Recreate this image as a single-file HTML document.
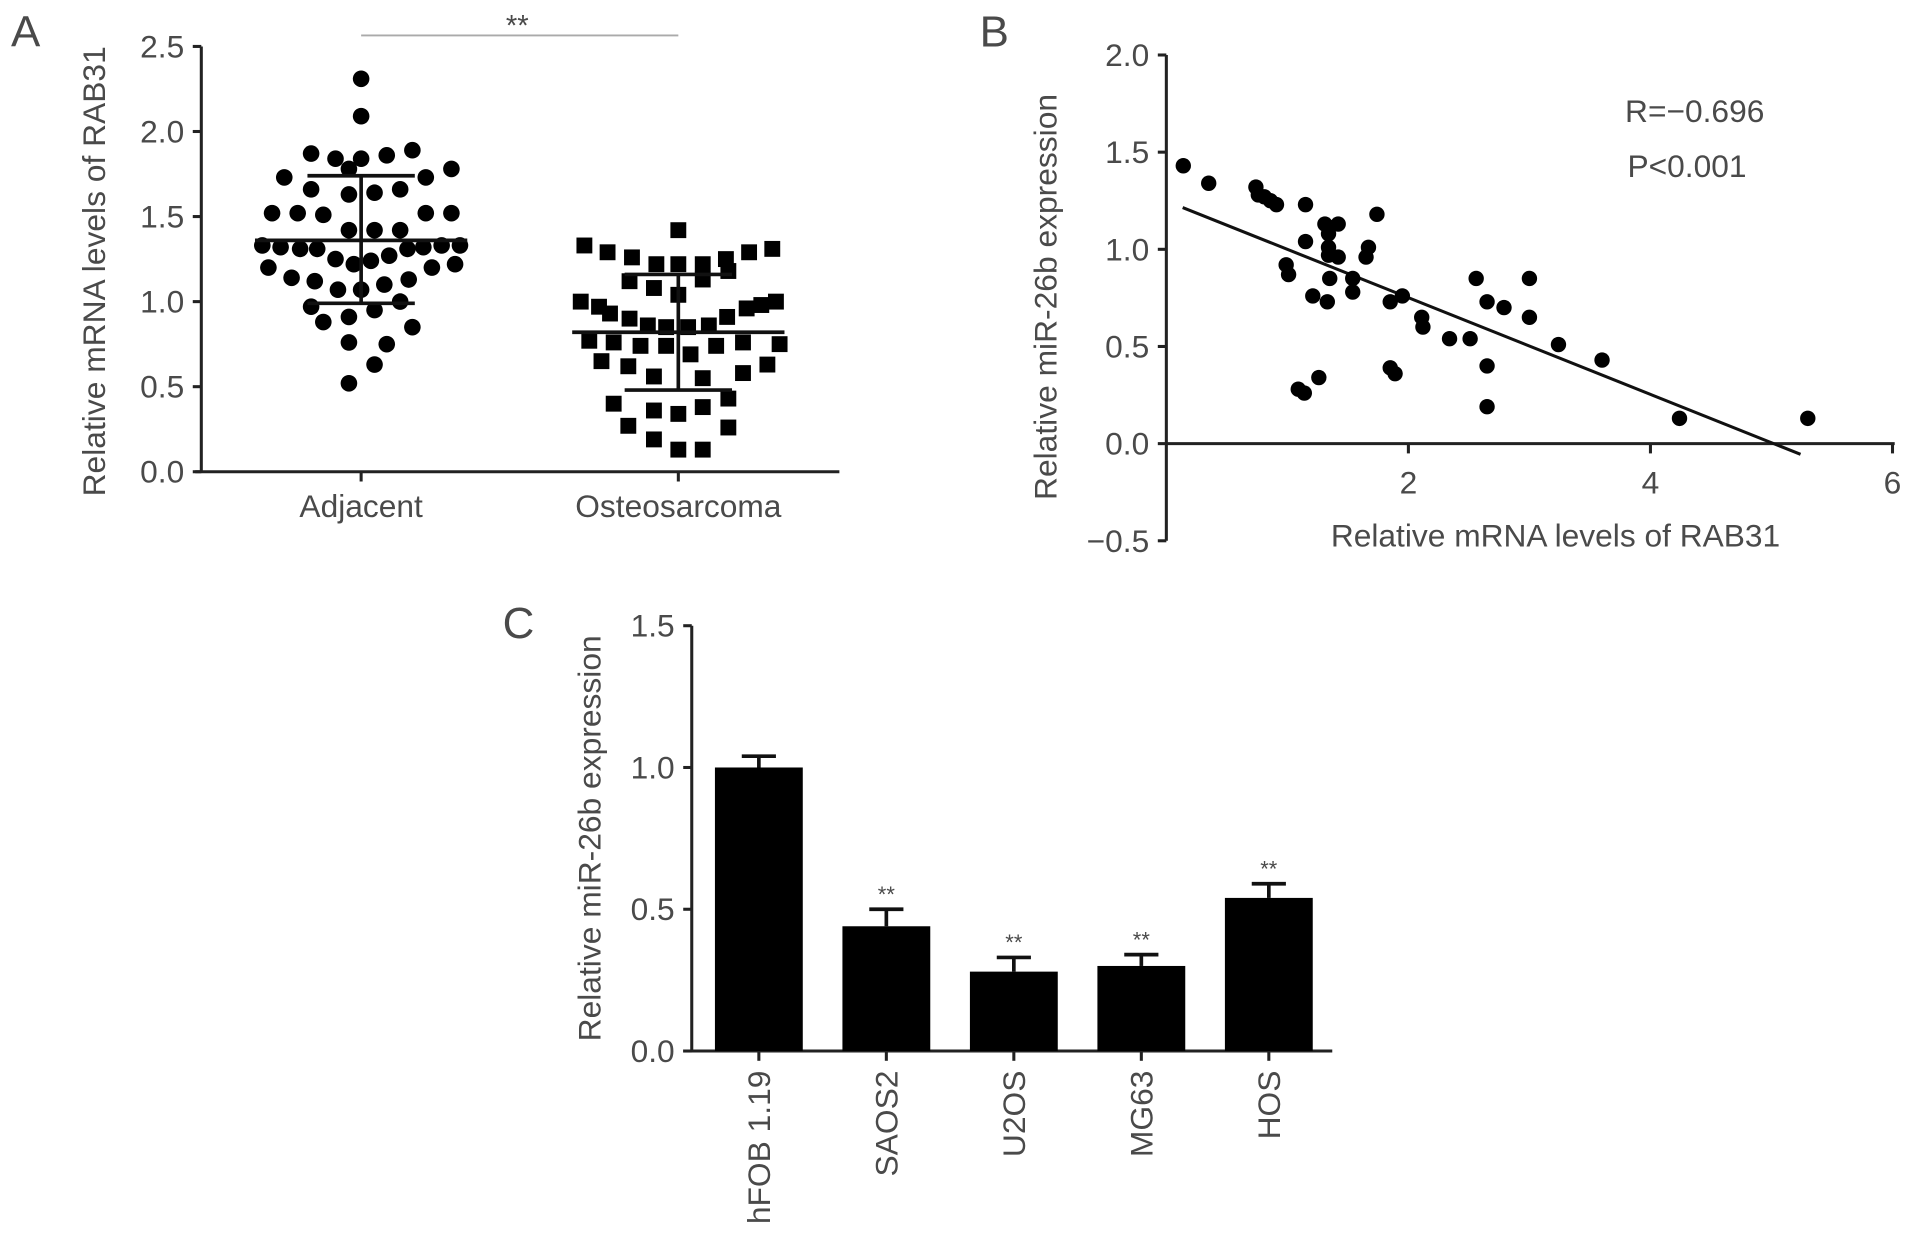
<!DOCTYPE html>
<html><head><meta charset="utf-8"><style>
html,body{margin:0;padding:0;background:#fff;}
svg{display:block;}
text{font-family:"Liberation Sans",sans-serif;fill:#4a4a4a;}
</style></head><body>
<svg id="fig" width="1913" height="1249" viewBox="0 0 1568 1022" preserveAspectRatio="none" xmlns="http://www.w3.org/2000/svg"></svg>
<script>
// Panel A data
const adjacentValues=[2.31,2.09,1.87,1.84,1.84,1.86,1.89,1.73,1.78,1.73,1.78,1.66,1.63,1.64,1.66,1.52,1.52,1.51,1.52,1.52,1.42,1.42,1.42,1.33,1.32,1.31,1.31,1.31,1.32,1.33,1.33,1.25,1.22,1.24,1.27,1.22,1.20,1.14,1.12,1.13,1.20,1.07,1.07,1.10,0.97,0.91,0.95,1.00,0.88,0.85,0.76,0.75,0.63,0.52];
const adjacentJitter=[0,0,-41,-21,0,21,42,-63,-10,53,74,-41,-10,11,32,-73,-52,-31,53,74,-10,11,32,-81,-66,-50,-36,38,51,66,81,-21,-6,8,23,77,-76,-57,-38,39,58,-19,0,19,-41,-10,11,32,-31,42,-10,21,11,-10];
const osteoValues=[1.42,1.33,1.29,1.26,1.22,1.22,1.22,1.25,1.29,1.31,1.12,1.08,1.04,1.13,1.18,1.00,0.97,0.93,0.90,0.86,0.85,0.85,0.86,0.91,0.96,0.98,1.00,0.77,0.76,0.74,0.74,0.69,0.74,0.76,0.75,0.65,0.62,0.56,0.55,0.58,0.63,0.40,0.36,0.34,0.38,0.43,0.27,0.19,0.13,0.13,0.26];
const osteoJitter=[0,-77,-58,-38,-18,0,20,39,58,77,-40,-20,0,20,41,-80,-65,-56,-40,-25,-10,8,25,40,56,68,80,-73,-53,-31,-10,10,31,53,83,-63,-41,-20,20,53,73,-53,-20,0,20,41,-41,-20,0,20,41];
const adjStats=[1.36,1.74,0.99]; // mean, upper, lower
const osteoStats=[0.82,1.16,0.48];
const aTicks=[0,0.5,1.0,1.5,2.0,2.5];
const aCats=["Adjacent","Osteosarcoma"];
// Panel B data
const bX=[0.14,0.35,0.74,0.76,0.81,0.86,0.91,1.15,1.74,1.31,1.42,1.34,1.15,1.34,1.67,1.65,1.42,1.34,0.99,1.01,1.35,1.54,1.54,1.21,1.33,1.85,1.95,2.56,3.0,2.65,2.79,2.11,2.12,3.0,2.34,2.51,3.24,3.6,2.65,1.85,1.89,1.26,1.09,1.14,2.65,4.24,5.3];
const bY=[1.43,1.34,1.32,1.28,1.27,1.25,1.23,1.23,1.18,1.13,1.13,1.08,1.04,1.01,1.01,0.96,0.96,0.97,0.92,0.87,0.85,0.85,0.78,0.76,0.73,0.73,0.76,0.85,0.85,0.73,0.70,0.65,0.60,0.65,0.54,0.54,0.51,0.43,0.40,0.39,0.36,0.34,0.28,0.26,0.19,0.13,0.13];
const bFitX=[0.135,5.24];
const bFitY=[1.215,-0.055];
const bYTicks=[-0.5,0.0,0.5,1.0,1.5,2.0];
const bXTicks=[2,4,6];
// Panel C data
const cCats=["hFOB 1.19","SAOS2","U2OS","MG63","HOS"];
const cValues=[1.0,0.44,0.28,0.30,0.54];
const cErr=[0.04,0.06,0.05,0.04,0.05];
const cSig=["","**","**","**","**"];
const cTicks=[0.0,0.5,1.0,1.5];

const svg=document.getElementById('fig');
const NS="http://www.w3.org/2000/svg";
const FS=26;
function mk(tag,attrs,parent,txt){const e=document.createElementNS(NS,tag);for(const k in attrs)e.setAttribute(k,attrs[k]);if(txt!==undefined)e.textContent=txt;(parent||svg).appendChild(e);return e;}
function grp(name){const g=mk('g',{});return g;}
const fmt=v=>v.toFixed(1).replace('-','\u2212');

// ---------- Panel A ----------
const A=grp('panel-a');
const ay=v=>386-v*139.2;
const ax=[296,556];
let t=mk('text',{x:9,y:38,'font-size':36},A,'A');
let l=mk('line',{x1:165,y1:ay(2.5),x2:165,y2:386,stroke:'#222','stroke-width':2.5},A);
l=mk('line',{x1:160,y1:386,x2:688,y2:386,stroke:'#222','stroke-width':2.5},A);
aTicks.forEach(v=>{mk('line',{x1:158,y1:ay(v),x2:165,y2:ay(v),stroke:'#222','stroke-width':2.5},A);
 t=mk('text',{x:151,y:ay(v)+9,'font-size':FS,'text-anchor':'end'},A,fmt(v));});
aCats.forEach((c,i)=>{mk('line',{x1:ax[i],y1:386,x2:ax[i],y2:394,stroke:'#222','stroke-width':2.5},A);
 t=mk('text',{x:ax[i],y:423,'font-size':FS,'text-anchor':'middle'},A,c);});
t=mk('text',{x:0,y:0,'font-size':FS,'text-anchor':'middle',transform:'translate(86,222) rotate(-90)'},A,'Relative mRNA levels of RAB31');
l=mk('line',{x1:296,y1:29,x2:556,y2:29,stroke:'#aaa','stroke-width':1.5},A);
t=mk('text',{x:424,y:29,'font-size':24,'text-anchor':'middle'},A,'**');
adjacentValues.forEach((v,i)=>{const c=mk('circle',{cx:ax[0]+adjacentJitter[i],cy:ay(v),r:6.8,fill:'#000'},A);
 
 });
osteoValues.forEach((v,i)=>{const r=mk('rect',{x:ax[1]+osteoJitter[i]-6.5,y:ay(v)-6.5,width:13,height:13,fill:'#000'},A);
 
 });
[[adjStats,ax[0],'adjacent'],[osteoStats,ax[1],'osteosarcoma']].forEach(([s,x,n])=>{
 const g=mk('g',{stroke:'#111','stroke-width':3},A);
 mk('line',{x1:x-87,y1:ay(s[0]),x2:x+87,y2:ay(s[0])},g);
 mk('line',{x1:x,y1:ay(s[1]),x2:x,y2:ay(s[2])},g);
 mk('line',{x1:x-44,y1:ay(s[1]),x2:x+44,y2:ay(s[1])},g);
 mk('line',{x1:x-44,y1:ay(s[2]),x2:x+44,y2:ay(s[2])},g);});

// ---------- Panel B ----------
const B=grp('panel-b');
const bx=v=>956+v*99.2, by=v=>363-v*159;
t=mk('text',{x:803,y:38,'font-size':36},B,'B');
l=mk('line',{x1:956,y1:by(2),x2:956,y2:by(-0.5),stroke:'#222','stroke-width':2.5},B);
l=mk('line',{x1:956,y1:363,x2:1553,y2:363,stroke:'#222','stroke-width':2.5},B);
bYTicks.forEach(v=>{mk('line',{x1:949,y1:by(v),x2:956,y2:by(v),stroke:'#222','stroke-width':2.5},B);
 t=mk('text',{x:942,y:by(v)+9,'font-size':FS,'text-anchor':'end'},B,fmt(v));});
bXTicks.forEach(v=>{mk('line',{x1:bx(v),y1:363,x2:bx(v),y2:371,stroke:'#222','stroke-width':2.5},B);
 t=mk('text',{x:bx(v),y:404,'font-size':FS,'text-anchor':'middle'},B,String(v));});
t=mk('text',{x:1275,y:447,'font-size':FS,'text-anchor':'middle'},B,'Relative mRNA levels of RAB31');
t=mk('text',{x:0,y:0,'font-size':FS,'text-anchor':'middle',transform:'translate(866,243) rotate(-90)'},B,'Relative miR-26b expression');
t=mk('text',{x:1332,y:100,'font-size':FS},B,'R=\u22120.696');
t=mk('text',{x:1334,y:145,'font-size':FS},B,'P<0.001');
l=mk('line',{x1:bx(bFitX[0]),y1:by(bFitY[0]),x2:bx(bFitX[1]),y2:by(bFitY[1]),stroke:'#111','stroke-width':2.5},B);
bX.forEach((x,i)=>{const c=mk('circle',{cx:bx(x),cy:by(bY[i]),r:6.3,fill:'#000'},B);
 
 });

// ---------- Panel C ----------
const C=grp('panel-c');
const cy=v=>860-v*232;
const cx=i=>622+i*104.5;
t=mk('text',{x:412,y:522,'font-size':36},C,'C');
l=mk('line',{x1:567,y1:cy(1.5),x2:567,y2:860,stroke:'#222','stroke-width':2.5},C);
l=mk('line',{x1:560,y1:860,x2:1092,y2:860,stroke:'#222','stroke-width':2.5},C);
cTicks.forEach(v=>{mk('line',{x1:560,y1:cy(v),x2:567,y2:cy(v),stroke:'#222','stroke-width':2.5},C);
 t=mk('text',{x:553,y:cy(v)+9,'font-size':FS,'text-anchor':'end'},C,fmt(v));});
t=mk('text',{x:0,y:0,'font-size':FS,'text-anchor':'middle',transform:'translate(492,686) rotate(-90)'},C,'Relative miR-26b expression');
cCats.forEach((c,i)=>{const x=cx(i);
 const e=mk('g',{stroke:'#111','stroke-width':3},C);
 
 
 mk('line',{x1:x,y1:cy(cValues[i]),x2:x,y2:cy(cValues[i]+cErr[i])},e);
 mk('line',{x1:x-14,y1:cy(cValues[i]+cErr[i]),x2:x+14,y2:cy(cValues[i]+cErr[i])},e);
 const r=mk('rect',{x:x-36,y:cy(cValues[i]),width:72,height:860-cy(cValues[i]),fill:'#000'},C);
 
 
 mk('line',{x1:x,y1:860,x2:x,y2:868,stroke:'#222','stroke-width':2.5},C);
 const lb=mk('text',{x:0,y:0,'font-size':FS,'text-anchor':'end',transform:`translate(${x+9},876) rotate(-90)`},C,c);
 
 
 if(cSig[i]){const s=mk('text',{x:x,y:cy(cValues[i]+cErr[i])-6,'font-size':18,'text-anchor':'middle'},C,cSig[i]);
  
  }
});
</script>
</body></html>
